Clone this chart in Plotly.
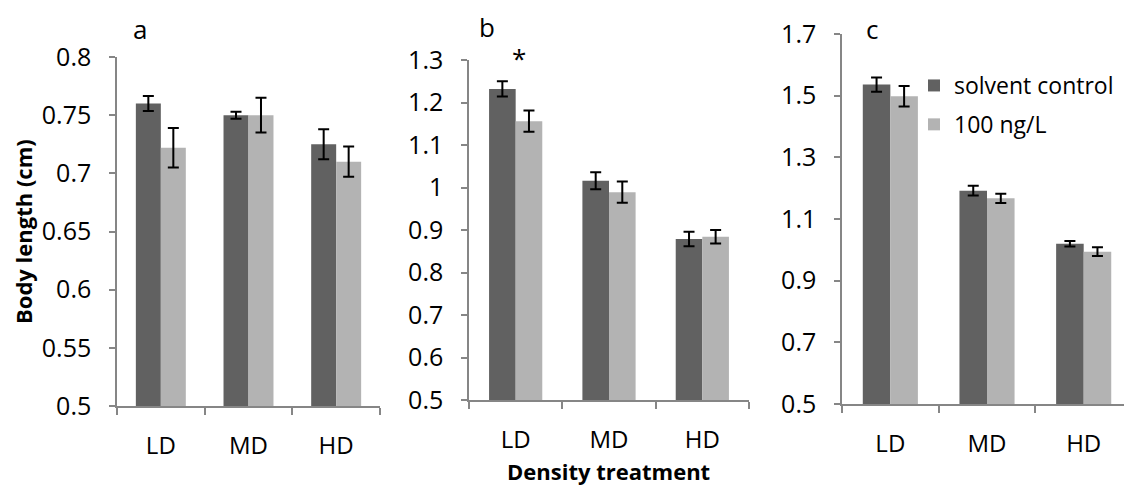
import plotly.graph_objects as go

categories = ["LD", "MD", "HD"]
series_names = ["solvent control", "100 ng/L"]

a_control = [0.760, 0.750, 0.725]
a_control_err = [0.0065, 0.003, 0.013]
a_treat = [0.722, 0.750, 0.710]
a_treat_err = [0.017, 0.015, 0.013]

b_control = [1.232, 1.016, 0.879]
b_control_err = [0.018, 0.020, 0.017]
b_treat = [1.156, 0.989, 0.884]
b_treat_err = [0.025, 0.025, 0.016]

c_control = [1.536, 1.192, 1.020]
c_control_err = [0.023, 0.016, 0.009]
c_treat = [1.498, 1.167, 0.994]
c_treat_err = [0.033, 0.015, 0.014]

panel_labels = ["a", "b", "c"]

DARK = "#616161"
LIGHT = "#b3b3b3"
AXIS = "#868686"
FONT = "Open Sans"
W, H = 1124, 487

fig = go.Figure()

panels = [
    (a_control, a_control_err, a_treat, a_treat_err, "x", "y"),
    (b_control, b_control_err, b_treat, b_treat_err, "x2", "y2"),
    (c_control, c_control_err, c_treat, c_treat_err, "x3", "y3"),
]
for i, (ctl, ctl_e, trt, trt_e, xa, ya) in enumerate(panels):
    show = (i == 2)
    fig.add_trace(go.Bar(
        x=categories, y=ctl, name=series_names[0], marker_color=DARK,
        marker_line_width=0, xaxis=xa, yaxis=ya, showlegend=show,
        legendgroup="g1", offsetgroup="1",
        error_y=dict(type="data", array=ctl_e, color="black", thickness=2, width=5.5)))
    fig.add_trace(go.Bar(
        x=categories, y=trt, name=series_names[1], marker_color=LIGHT,
        marker_line_width=0, xaxis=xa, yaxis=ya, showlegend=show,
        legendgroup="g2", offsetgroup="2",
        error_y=dict(type="data", array=trt_e, color="black", thickness=2, width=5.5)))

def px2x(px):
    return px / W

def px2y(py):
    return 1 - py / H

xcommon = dict(type="category", showline=True, linecolor=AXIS, linewidth=1.5,
               ticks="outside", tickson="boundaries", ticklen=7, tickcolor=AXIS,
               tickwidth=1.5, showgrid=False, zeroline=False,
               tickfont=dict(family=FONT, size=24, color="black"),
               ticklabelstandoff=17, automargin=False, fixedrange=True)
ycommon = dict(showline=True, linecolor=AXIS, linewidth=1.5, ticks="outside",
               ticklen=6, tickcolor=AXIS, tickwidth=1.5, showgrid=False,
               zeroline=False, tickfont=dict(family=FONT, size=25, color="black"),
               ticklabelstandoff=13, automargin=False, fixedrange=True)

fig.update_layout(
    xaxis=dict(xcommon, domain=[px2x(117), px2x(380)], anchor="y", range=[-0.5, 2.5]),
    yaxis=dict(ycommon, domain=[px2y(406), px2y(57)], anchor="x", range=[0.5, 0.8],
               tick0=0.5, dtick=0.05),
    xaxis2=dict(xcommon, domain=[px2x(469), px2x(749)], anchor="y2", range=[-0.5, 2.5]),
    yaxis2=dict(ycommon, domain=[px2y(400), px2y(60)], anchor="x2", range=[0.5, 1.3],
                tick0=0.5, dtick=0.1),
    xaxis3=dict(xcommon, domain=[px2x(842), 1.0], anchor="y3", range=[-0.5, 2.417]),
    yaxis3=dict(ycommon, domain=[px2y(404), px2y(34)], anchor="x3", range=[0.5, 1.7],
                tick0=0.5, dtick=0.2),
    barmode="group", bargap=0.43, bargroupgap=0,
    width=W, height=H, margin=dict(l=0, r=0, t=0, b=0),
    paper_bgcolor="white", plot_bgcolor="white",
    font=dict(family=FONT, size=22, color="black"),
    legend=dict(x=px2x(914), y=px2y(64), xanchor="left", yanchor="top",
                bgcolor="rgba(0,0,0,0)", font=dict(family=FONT, size=23, color="black"),
                traceorder="grouped", tracegroupgap=6, itemwidth=30),
    showlegend=True,
)

def ann(text, px, py, size, **kw):
    d = dict(text=text, x=px2x(px), y=px2y(py), xref="paper", yref="paper",
             xanchor="center", yanchor="middle", showarrow=False,
             font=dict(family=FONT, size=size, color="black"))
    d.update(kw)
    return d

annotations = [
    ann(panel_labels[0], 140, 29, 26),
    ann(panel_labels[1], 487, 27, 26),
    ann(panel_labels[2], 872, 29, 26),
    dict(text="*", x=0, y=1.3, xref="x2", yref="y2", xshift=3, yshift=2,
         xanchor="center", yanchor="middle", showarrow=False,
         font=dict(family=FONT, size=26, color="black")),
    ann("<b>Body length (cm)</b>", 23, 232, 22, textangle=-90),
    ann("<b>Density treatment</b>", 609, 471, 22),
]
fig.update_layout(annotations=annotations)

fig.write_html("out.html")
